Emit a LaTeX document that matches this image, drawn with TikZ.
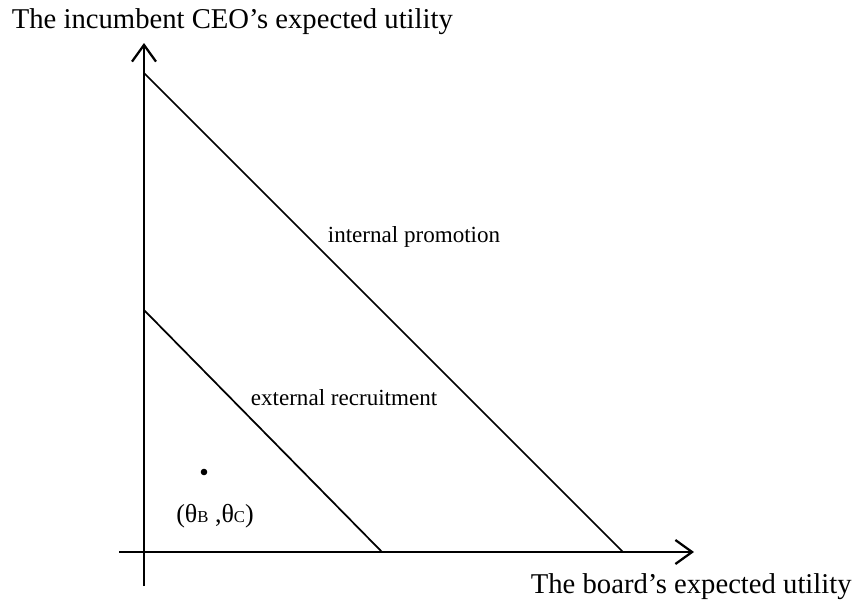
\documentclass[tikz,border=0pt]{standalone}
\usepackage{fontspec}
\setmainfont{Liberation Serif}
\usetikzlibrary{arrows.meta}

\begin{document}
\begin{tikzpicture}[x=0.75pt, y=-0.75pt, >={Straight Barb[length=12.5pt, width=18pt]},
    line width=1.3pt,
    axislabel/.style={inner sep=0pt, font=\fontsize{21.5}{24}\selectfont},
    linelabel/.style={inner sep=0pt, font=\fontsize{17.3}{20}\selectfont}]
  \useasboundingbox (0,0) rectangle (857,603);
  \coordinate (O) at (144,552);
  % ejes
  \coordinate (ybot) at (144,586);
  \coordinate (ytop) at (144,43);
  \coordinate (xleft) at (119,552);
  \coordinate (xright) at (694,552);
  \draw[->, line width=1.7pt] (ybot)--(ytop);
  \draw[->, line width=1.7pt] (xleft)--(xright);
  \node[axislabel, anchor=base west] (ylab) at (11,28) {The incumbent CEO’s expected utility};
  \node[axislabel, anchor=base west] (xlab) at (530,593) {The board’s expected utility};
  % rectas de utilidad
  \coordinate (ip0) at (144,73);
  \coordinate (ip1) at (623,552);
  \coordinate (er0) at (144,310);
  \coordinate (er1) at (382,552);
  \draw (ip0)--(ip1);
  \draw (er0)--(er1);
  \node[linelabel, anchor=base west] (iplab) at (327,242) {internal promotion};
  \node[linelabel, anchor=base west] (erlab) at (250,405) {external recruitment};
  % punto de amenaza
  \fill (204,472) circle (3.3);
  \node[inner sep=0pt, font=\fontsize{19.5}{22}\selectfont, anchor=base] (thlab) at (215,522)
    {(θ{\fontsize{12.5}{14}\selectfont B} ,θ{\fontsize{12.5}{14}\selectfont C})};
\end{tikzpicture}
\end{document}
